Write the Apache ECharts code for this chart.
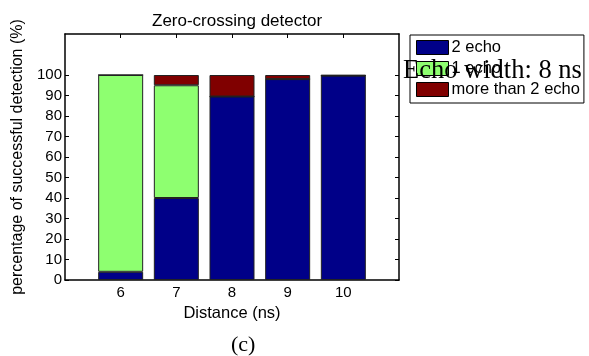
<!DOCTYPE html>
<html>
<head>
    <meta charset="UTF-8">
    <title>Zero-crossing detector</title>
    <script src="https://cdn.jsdelivr.net/npm/echarts@6/dist/echarts.min.js"></script>
    <style>
        body, html {
            margin: 0;
            padding: 0;
            background: #fff;
        }

        #chart {
            width: 589px;
            height: 356px;
        }
    </style>
</head>
<body>
<div id="chart"></div>
<script>
    // data
    var distances = ['6', '7', '8', '9', '10'];
    var twoEcho = [4, 40, 89.5, 98, 99.7];
    var oneEcho = [96, 55, 0, 0, 0];
    var moreEcho = [0, 5, 10.5, 2, 0.3];
    var yTicks = [0, 10, 20, 30, 40, 50, 60, 70, 80, 90, 100];
    var seriesNames = ['2 echo', '1 echo', 'more than 2 echo'];
    var colors = ['#000088', '#8eff70', '#800000'];

    var echart = echarts.init(document.getElementById('chart'));

    // axis runs from 5 to 11, empty slots at both ends
    var cats = [''].concat(distances, ['']);
    function pad(vals) {
        return ['-'].concat(vals, ['-']);
    }

    var lineStyle = {color: '#000', width: 1.5};
    var font = 'Liberation Sans, Arial, sans-serif';
    var last = cats.length - 1;

    function makeX(pos, showLabel) {
        return {
            type: 'category', position: pos, data: cats, boundaryGap: false,
            axisLine: {show: true, onZero: false, lineStyle: lineStyle},
            axisTick: {
                show: true, inside: true, length: 4, lineStyle: {color: '#000'},
                interval: function (i) { return i > 0 && i < last; }
            },
            axisLabel: {show: showLabel, interval: 0, margin: 5, color: '#000', fontSize: 15, fontFamily: font},
            splitLine: {show: false}
        };
    }

    function makeY(pos, showLabel) {
        return {
            type: 'value', position: pos, min: 0, max: 120, interval: 10,
            axisLine: {show: true, onZero: false, lineStyle: lineStyle},
            axisTick: {show: true, inside: true, length: 4, customValues: yTicks, lineStyle: {color: '#000'}},
            axisLabel: {
                show: showLabel, margin: 3, color: '#000', fontSize: 15, fontFamily: font,
                customValues: yTicks
            },
            splitLine: {show: false}
        };
    }

    var xBottom = makeX('bottom', true);
    xBottom.name = 'Distance (ns)';
    xBottom.nameLocation = 'middle';
    xBottom.nameGap = 24;
    xBottom.nameTextStyle = {color: '#000', fontSize: 16.5, fontFamily: font};

    var yLeft = makeY('left', true);
    yLeft.name = 'percentage of successful detection (%)';
    yLeft.nameLocation = 'middle';
    yLeft.nameGap = 33;
    yLeft.nameTextStyle = {color: '#000', fontSize: 16, fontFamily: font};

    var allVals = [twoEcho, oneEcho, moreEcho];
    var series = seriesNames.map(function (name, i) {
        return {
            name: name,
            type: 'bar',
            stack: 'total',
            barWidth: 45,
            xAxisIndex: 0,
            yAxisIndex: 0,
            data: pad(allVals[i]),
            itemStyle: {color: colors[i], borderColor: '#222', borderWidth: 1}
        };
    });

    var option = {
        animation: false,
        backgroundColor: '#fff',
        title: {
            text: 'Zero-crossing detector',
            left: 147, top: 8,
            textStyle: {color: '#000', fontSize: 17, fontWeight: 'normal', fontFamily: font}
        },
        grid: {left: 65, top: 34, width: 334, height: 246},
        legend: {
            orient: 'vertical',
            left: 410, top: 35,
            data: seriesNames,
            icon: 'rect',
            itemWidth: 32, itemHeight: 14, itemGap: 4,
            padding: [4, 4, 5, 6],
            borderColor: '#000', borderWidth: 1,
            backgroundColor: '#fff',
            selectedMode: false,
            itemStyle: {borderColor: '#000', borderWidth: 1},
            textStyle: {color: '#000', fontSize: 16.5, fontFamily: font, padding: [0, 0, 0, -2]}
        },
        xAxis: [xBottom, makeX('top', false)],
        yAxis: [yLeft, makeY('right', false)],
        series: series,
        graphic: [
            {
                type: 'text', left: 403, top: 58, z: 100,
                style: {text: 'Echo width: 8 ns', fill: '#000', font: '26.5px "Liberation Serif", "Times New Roman", serif'}
            },
            {
                type: 'text', left: 231, top: 334,
                style: {text: '(c)', fill: '#000', font: '22px "Liberation Serif", "Times New Roman", serif'}
            }
        ]
    };

    echart.setOption(option);
</script>
</body>
</html>
